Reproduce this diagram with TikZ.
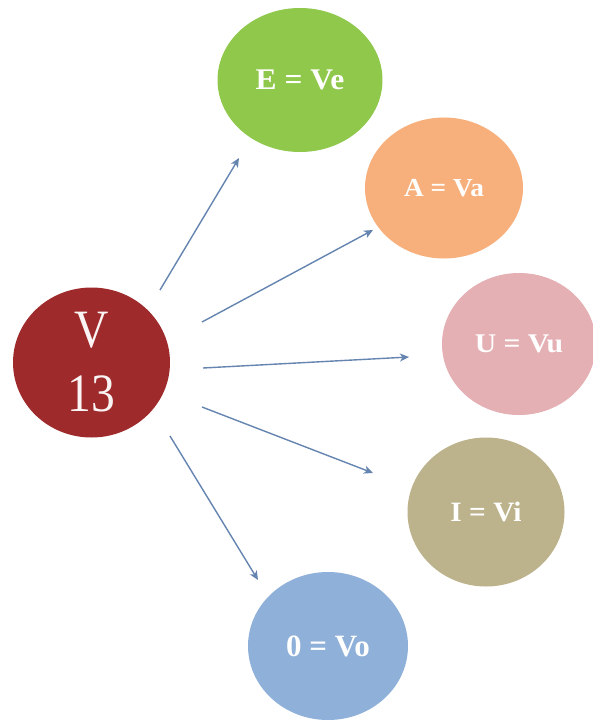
\documentclass[tikz,border=0pt]{standalone}
\usepackage{fontspec}
\setmainfont{Liberation Serif}
\usetikzlibrary{shapes.geometric,arrows.meta,calc}
\definecolor{cV}{HTML}{9E2A2B}
\definecolor{cE}{HTML}{8FC84A}
\definecolor{cA}{HTML}{F7B07C}
\definecolor{cU}{HTML}{E4B0B3}
\definecolor{cI}{HTML}{BCB38D}
\definecolor{cO}{HTML}{8FB1D9}
\definecolor{cArr}{HTML}{6585B0}
\begin{document}
\begin{tikzpicture}[x=1pt,y=-1pt,
  blob/.style={ellipse,inner sep=0pt,text=white,font=\bfseries},
  arr/.style={draw=cArr,line width=1.4pt,-{Stealth[length=9pt,width=8pt,inset=2.5pt]}}]
\fill[white] (0,0) rectangle (593,720);
\useasboundingbox (0,0) rectangle (593,720);
\node[blob,fill=cV,minimum width=157pt,minimum height=150pt,font=\normalfont\fontsize{54}{64}\selectfont,align=center,text=white!95!cV] (v) at (91.5,362.5)
  {\scalebox{0.88}[1]{V}\\\scalebox{0.88}[1]{13}};
\node[blob,fill=cE,minimum width=165pt,minimum height=144pt] (e) at (300,80)
  {\fontsize{30}{36}\selectfont\scalebox{1.05}[1]{E = Ve}};
\node[blob,fill=cA,minimum width=158pt,minimum height=141pt] (a) at (444,188)
  {\fontsize{26}{30}\selectfont\scalebox{1.05}[1]{A = Va}};
\node[blob,fill=cU,minimum width=154pt,minimum height=142pt] (u) at (519,344)
  {\fontsize{27}{30}\selectfont\scalebox{1.1}[1]{U = Vu}};
\node[blob,fill=cI,minimum width=157pt,minimum height=149pt] (i) at (486,512)
  {\fontsize{28}{30}\selectfont\scalebox{1.05}[1]{I = Vi}};
\node[blob,fill=cO,minimum width=160pt,minimum height=148pt] (o) at (328,646)
  {\fontsize{31}{36}\selectfont\scalebox{1.0}[1]{0 = Vo}};
\draw[arr] ($(v)+(68.5,-72.5)$) -- ($(e)+(-61,78)$);
\draw[arr] ($(v)+(110.5,-40.5)$) -- ($(a)+(-71,42)$);
\draw[arr] ($(v)+(111.5,5.5)$) -- ($(u)+(-110,13)$);
\draw[arr] ($(v)+(110.5,44.5)$) -- ($(i)+(-113,-39)$);
\draw[arr] ($(v)+(78.5,73.5)$) -- ($(o)+(-70,-66)$);
\end{tikzpicture}
\end{document}
